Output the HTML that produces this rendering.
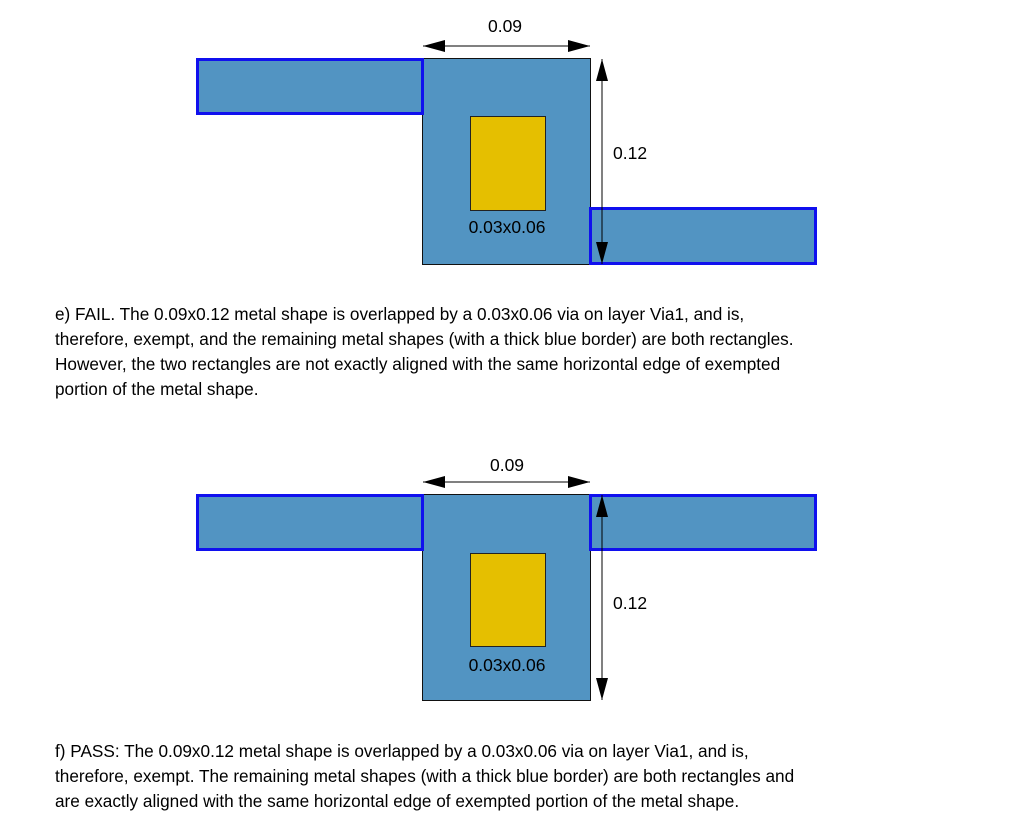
<!DOCTYPE html>
<html><head><style>
body{margin:0;background:#fff;width:1013px;height:840px;overflow:hidden;position:relative;font-family:"Liberation Sans",Arial,sans-serif}
.p{position:absolute;left:55px;font-size:17.2px;line-height:25px;color:#000;white-space:nowrap}
</style></head><body>
<svg width="1013" height="840" style="position:absolute;left:0;top:0" font-family="Liberation Sans, Arial, sans-serif" font-size="17.5">
<defs>
<marker id="a" viewBox="0 0 22 12" refX="22" refY="6" markerWidth="22" markerHeight="12" markerUnits="userSpaceOnUse" orient="auto"><path d="M0,0L22,6L0,12z" fill="#000"/></marker>
</defs>
<rect x="422.5" y="58.5" width="168" height="206" fill="#5294c2" stroke="#111" stroke-width="1"/>
<rect x="197.5" y="59.5" width="225" height="54" fill="#5294c2" stroke="#1010ee" stroke-width="3"/>
<rect x="590.5" y="208.5" width="225" height="55" fill="#5294c2" stroke="#1010ee" stroke-width="3"/>
<rect x="470.5" y="116.5" width="75" height="94" fill="#e5bf00" stroke="#222" stroke-width="1"/>
<line x1="505" y1="46" x2="423" y2="46" stroke="#000" marker-end="url(#a)"/>
<line x1="505" y1="46" x2="590" y2="46" stroke="#000" marker-end="url(#a)"/>
<line x1="602" y1="160" x2="602" y2="59" stroke="#000" marker-end="url(#a)"/>
<line x1="602" y1="160" x2="602" y2="264" stroke="#000" marker-end="url(#a)"/>
<text x="505" y="32" text-anchor="middle">0.09</text>
<text x="613" y="159">0.12</text>
<text x="507" y="233" text-anchor="middle">0.03x0.06</text>
<rect x="422.5" y="494.5" width="168" height="206" fill="#5294c2" stroke="#111" stroke-width="1"/>
<rect x="197.5" y="495.5" width="225" height="54" fill="#5294c2" stroke="#1010ee" stroke-width="3"/>
<rect x="590.5" y="495.5" width="225" height="54" fill="#5294c2" stroke="#1010ee" stroke-width="3"/>
<rect x="470.5" y="553.5" width="75" height="93" fill="#e5bf00" stroke="#222" stroke-width="1"/>
<line x1="505" y1="482" x2="423" y2="482" stroke="#000" marker-end="url(#a)"/>
<line x1="505" y1="482" x2="590" y2="482" stroke="#000" marker-end="url(#a)"/>
<line x1="602" y1="600" x2="602" y2="495" stroke="#000" marker-end="url(#a)"/>
<line x1="602" y1="600" x2="602" y2="700" stroke="#000" marker-end="url(#a)"/>
<text x="507" y="471" text-anchor="middle">0.09</text>
<text x="613" y="609">0.12</text>
<text x="507" y="671" text-anchor="middle">0.03x0.06</text>
</svg>
<div class="p" style="top:302px">e) FAIL. The 0.09x0.12 metal shape is overlapped by a 0.03x0.06 via on layer Via1, and is,<br>therefore, exempt, and the remaining metal shapes (with a thick blue border) are both rectangles.<br>However, the two rectangles are not exactly aligned with the same horizontal edge of exempted<br>portion of the metal shape.</div>
<div class="p" style="top:739px">f) PASS: The 0.09x0.12 metal shape is overlapped by a 0.03x0.06 via on layer Via1, and is,<br>therefore, exempt. The remaining metal shapes (with a thick blue border) are both rectangles and<br>are exactly aligned with the same horizontal edge of exempted portion of the metal shape.</div>
</body></html>
